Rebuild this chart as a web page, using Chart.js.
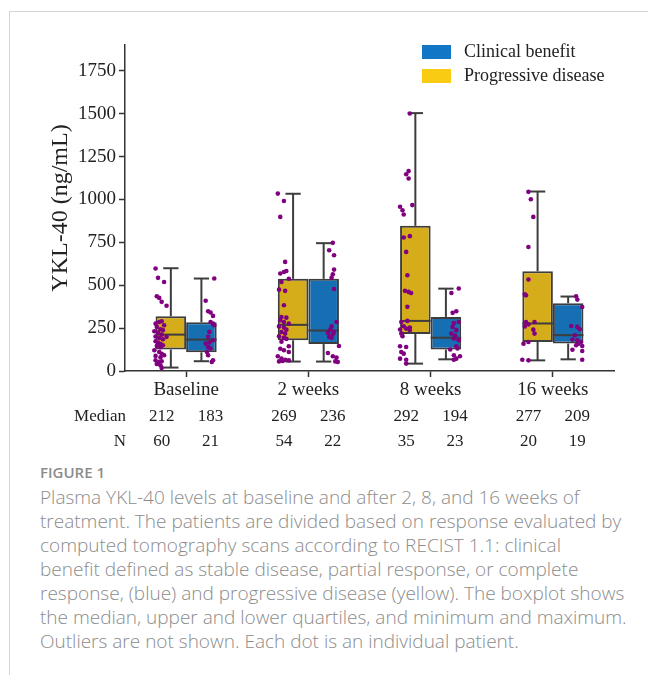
<!DOCTYPE html>
<html>
<head>
<meta charset="utf-8">
<script src="https://cdn.jsdelivr.net/npm/chart.js@4.4.1/dist/chart.umd.min.js"></script>
<style>
  body { margin: 0; background: #fff; }
  #frame { position: absolute; left: 9px; top: 11px; right: 0; bottom: 0; border-left: 1px solid #d4d4d4; border-top: 1px solid #d4d4d4; }
  #chart { position: absolute; left: 0; top: 0; }
  #caption { position: absolute; left: 40px; top: 462px; font-family: "Open Sans", sans-serif; color: #8c8c8c; white-space: nowrap; }
  #caption .fig { font-size: 15px; font-weight: 600; line-height: 20px; }
  #caption .txt { font-size: 19px; font-weight: 300; line-height: 24px; margin-top: 3px; }
</style>
</head>
<body>
<div id="frame"></div>
<canvas id="chart" width="648" height="460"></canvas>
<div id="caption">
  <div class="fig">FIGURE 1</div>
  <div class="txt">Plasma YKL-40 levels at baseline and after 2, 8, and 16 weeks of<br>treatment. The patients are divided based on response evaluated by<br>computed tomography scans according to RECIST 1.1: clinical<br>benefit defined as stable disease, partial response, or complete<br>response, (blue) and progressive disease (yellow). The boxplot shows<br>the median, upper and lower quartiles, and minimum and maximum.<br>Outliers are not shown. Each dot is an individual patient.</div>
</div>
<script>
const categories = ["Baseline", "2 weeks", "8 weeks", "16 weeks"];

// progressive disease (yellow)
const pdMin = [20, 55, 43, 62];
const pdQ1 = [125, 179, 216, 169];
const pdMedian = [212, 269, 292, 277];
const pdQ3 = [319, 537, 846, 581];
const pdMax = [599, 1033, 1503, 1046];
const pdN = [60, 54, 35, 20];

// clinical benefit (blue)
const cbMin = [57, 55, 68, 68];
const cbQ1 = [109, 157, 125, 160];
const cbMedian = [183, 236, 194, 209];
const cbQ3 = [284, 537, 315, 395];
const cbMax = [539, 745, 480, 434];
const cbN = [21, 22, 23, 19];

const yMax = 1900;
const yStep = 250;

// patient dots: [value, horizontal offset within the category]
const dotsBaselinePD = [[597,-0.25],[543,-0.23],[519,-0.18],[436,-0.24],[426,-0.22],[403,-0.2],[380,-0.16],
  [276,-0.25],[286,-0.22],[290,-0.2],[267,-0.18],[257,-0.24],[243,-0.21],[238,-0.19],[232,-0.26],[224,-0.23],
  [212,-0.2],[201,-0.25],[193,-0.22],[185,-0.19],[199,-0.16],[173,-0.25],[166,-0.23],[158,-0.21],[146,-0.24],
  [138,-0.21],[150,-0.19],[121,-0.26],[111,-0.22],[100,-0.2],[88,-0.25],[80,-0.21],[92,-0.18],[63,-0.25],
  [53,-0.22],[57,-0.2],[41,-0.24],[33,-0.21],[18,-0.2]];
const dotsBaselineCB = [[539,0.23],[409,0.16],[348,0.18],[341,0.2],[321,0.22],[286,0.2],[276,0.22],[267,0.23],
  [228,0.19],[199,0.18],[179,0.22],[166,0.19],[160,0.16],[140,0.18],[131,0.2],[111,0.17],[92,0.18],[63,0.22],[53,0.21]];
const dots2wPD = [[1034,-0.25],[991,-0.2],[898,-0.23],[636,-0.19],[583,-0.18],[577,-0.2],[568,-0.23],[538,-0.16],
  [519,-0.22],[474,-0.24],[467,-0.19],[383,-0.2],[315,-0.22],[311,-0.18],[296,-0.23],[286,-0.2],[276,-0.16],
  [260,-0.24],[253,-0.2],[241,-0.18],[227,-0.22],[218,-0.19],[202,-0.24],[194,-0.2],[187,-0.18],[171,-0.22],
  [144,-0.16],[130,-0.23],[121,-0.2],[111,-0.16],[86,-0.25],[72,-0.22],[66,-0.19],[56,-0.24],[62,-0.16],[58,-0.21]];
const dots2wCB = [[747,0.2],[704,0.17],[675,0.21],[591,0.21],[564,0.2],[544,0.19],[478,0.21],[286,0.23],[260,0.19],
  [241,0.18],[227,0.21],[222,0.16],[214,0.2],[198,0.17],[194,0.19],[146,0.25],[105,0.16],[86,0.2],[78,0.23],[56,0.22],[53,0.24]];
const dots8wPD = [[1501,-0.17],[1147,-0.2],[1165,-0.18],[1122,-0.18],[957,-0.25],[937,-0.23],[912,-0.22],[967,-0.15],
  [778,-0.22],[786,-0.17],[694,-0.2],[558,-0.19],[467,-0.21],[461,-0.18],[455,-0.16],[374,-0.19],[286,-0.24],
  [292,-0.19],[242,-0.25],[261,-0.22],[247,-0.2],[253,-0.17],[238,-0.17],[218,-0.24],[203,-0.23],[144,-0.25],
  [140,-0.2],[111,-0.24],[101,-0.22],[72,-0.25],[66,-0.2],[43,-0.2]];
const dots8wCB = [[481,0.23],[455,0.17],[348,0.21],[339,0.18],[280,0.19],[286,0.23],[257,0.18],[238,0.21],[218,0.17],
  [206,0.2],[189,0.19],[183,0.23],[179,0.23],[144,0.21],[131,0.22],[125,0.16],[92,0.19],[86,0.24],[72,0.21],[66,0.19]];
const dots16wPD = [[1044,-0.2],[1001,-0.18],[898,-0.16],[723,-0.2],[533,-0.2],[447,-0.23],[441,-0.22],[286,-0.22],
  [286,-0.15],[272,-0.2],[260,-0.23],[241,-0.16],[218,-0.15],[169,-0.2],[159,-0.24],[66,-0.25],[62,-0.2]];
const dots16wCB = [[435,0.19],[416,0.2],[373,0.24],[262,0.15],[257,0.2],[243,0.22],[208,0.18],[183,0.16],[179,0.2],
  [169,0.23],[159,0.21],[150,0.19],[146,0.24],[124,0.16],[117,0.24],[66,0.24]];

const dotGroups = [
  [dotsBaselinePD, dotsBaselineCB],
  [dots2wPD, dots2wCB],
  [dots8wPD, dots8wCB],
  [dots16wPD, dots16wCB]
];

const dotData = [];
dotGroups.forEach((pair, i) => {
  pair.forEach(list => list.forEach(d => dotData.push({ x: i + d[1], y: d[0] })));
});

const edge = "#3d3d3d";
const serif = "'Liberation Serif', 'Times New Roman', serif";
Chart.defaults.font.family = serif;

const boxPlugin = {
  id: "boxParts",
  afterDatasetDraw(chart, args) {
    const ds = chart.data.datasets[args.index];
    if (!ds.stats) return;
    const y = chart.scales.y;
    const ctx = chart.ctx;
    ctx.save();
    ctx.strokeStyle = edge;
    ctx.lineWidth = 2;
    const line = (x1, y1, x2, y2) => { ctx.beginPath(); ctx.moveTo(x1, y1); ctx.lineTo(x2, y2); ctx.stroke(); };
    args.meta.data.forEach((bar, i) => {
      const s = ds.stats;
      const x = bar.x, w = bar.width;
      line(x, y.getPixelForValue(s.q3[i]), x, y.getPixelForValue(s.max[i]));
      line(x, y.getPixelForValue(s.q1[i]), x, y.getPixelForValue(s.min[i]));
      line(x - w / 4, y.getPixelForValue(s.max[i]), x + w / 4, y.getPixelForValue(s.max[i]));
      line(x - w / 4, y.getPixelForValue(s.min[i]), x + w / 4, y.getPixelForValue(s.min[i]));
      line(x - w / 2, y.getPixelForValue(s.median[i]), x + w / 2, y.getPixelForValue(s.median[i]));
    });
    ctx.restore();
  },
  afterDraw(chart) {
    const ctx = chart.ctx;
    const xs = chart.scales.x;
    ctx.save();
    // legend
    ctx.font = "18px " + serif;
    ctx.textBaseline = "middle";
    ctx.textAlign = "left";
    ctx.fillStyle = "#1276c6";
    ctx.fillRect(422, 45, 29, 14);
    ctx.fillStyle = "#f9cb13";
    ctx.fillRect(422, 69, 29, 14);
    ctx.fillStyle = "#222";
    ctx.fillText("Clinical benefit", 464, 52);
    ctx.fillText("Progressive disease", 464, 76);
    // median / N rows
    ctx.font = "17px " + serif;
    ctx.textAlign = "right";
    ctx.fillText("Median", 126, 417);
    ctx.fillText("N", 126, 442);
    ctx.textAlign = "center";
    categories.forEach((c, i) => {
      const xl = xs.getPixelForValue(i - 0.2), xr = xs.getPixelForValue(i + 0.2);
      ctx.fillText(String(pdMedian[i]), xl, 417);
      ctx.fillText(String(cbMedian[i]), xr, 417);
      ctx.fillText(String(pdN[i]), xl, 442);
      ctx.fillText(String(cbN[i]), xr, 442);
    });
    ctx.restore();
  }
};

new Chart(document.getElementById("chart"), {
  type: "bar",
  data: {
    datasets: [
      {
        type: "scatter",
        data: dotData,
        order: 0,
        pointRadius: 2.3,
        pointBackgroundColor: "#800080",
        pointBorderWidth: 0,
        showLine: false
      },
      {
        label: "Progressive disease",
        data: pdQ1.map((q, i) => ({ x: i, y: [q, pdQ3[i]] })),
        stats: { min: pdMin, q1: pdQ1, median: pdMedian, q3: pdQ3, max: pdMax },
        backgroundColor: "#d5ad1a",
        borderColor: edge,
        borderWidth: 2,
        borderSkipped: false,
        categoryPercentage: 0.5,
        barPercentage: 1.0,
        order: 1
      },
      {
        label: "Clinical benefit",
        data: cbQ1.map((q, i) => ({ x: i, y: [q, cbQ3[i]] })),
        stats: { min: cbMin, q1: cbQ1, median: cbMedian, q3: cbQ3, max: cbMax },
        backgroundColor: "#176fb3",
        borderColor: edge,
        borderWidth: 2,
        borderSkipped: false,
        categoryPercentage: 0.5,
        barPercentage: 1.0,
        order: 2
      }
    ]
  },
  options: {
    responsive: false,
    animation: false,
    devicePixelRatio: 1,
    layout: { padding: { top: 45, right: 34, left: 0, bottom: 0 } },
    plugins: { legend: { display: false }, tooltip: { enabled: false } },
    scales: {
      x: {
        type: "linear",
        min: -0.5,
        max: 3.5,
        offset: false,
        afterBuildTicks(s) { s.ticks = categories.map((c, i) => ({ value: i })); },
        afterFit(s) { s.height = 89; },
        grid: { offset: false, drawOnChartArea: false, tickLength: 6, tickWidth: 1.5, tickColor: "#333" },
        border: { color: "#333", width: 1.5 },
        ticks: { callback: v => categories[v], color: "#222", font: { family: serif, size: 19 }, padding: 2 }
      },
      y: {
        min: 0,
        max: yMax,
        afterFit(s) { s.width = 125; },
        grid: { drawOnChartArea: false, tickLength: 6, tickWidth: 1.5, tickColor: "#333" },
        border: { color: "#333", width: 1.5 },
        ticks: { stepSize: yStep, includeBounds: false, callback: v => String(v), color: "#222", font: { family: serif, size: 19 }, padding: 3 },
        title: { display: true, text: "YKL-40 (ng/mL)", color: "#222", font: { family: serif, size: 24 }, padding: { top: 46 } }
      }
    }
  },
  plugins: [boxPlugin]
});
</script>
</body>
</html>
